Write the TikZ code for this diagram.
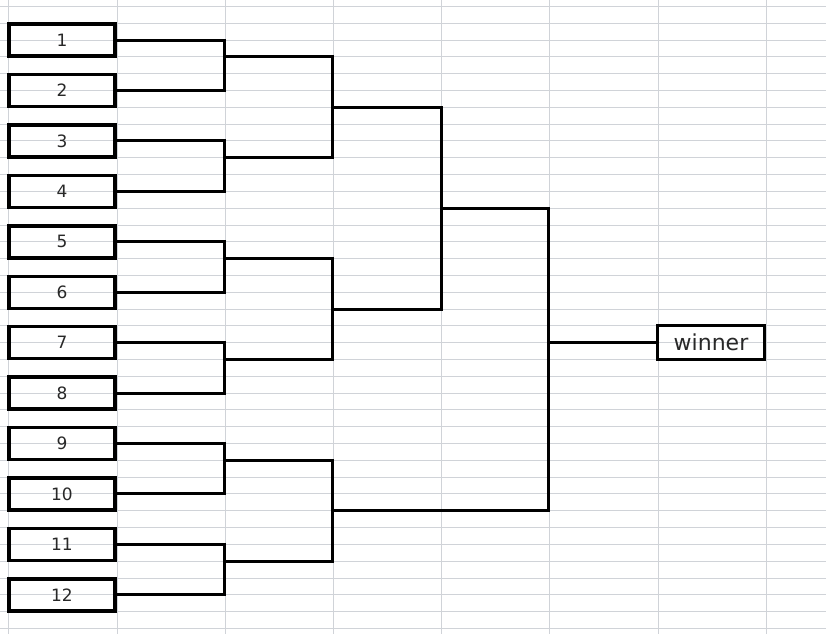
\documentclass[tikz,border=0pt]{standalone}
\usepackage{fontspec}
\setmainfont{DejaVu Sans}

\definecolor{gridline}{RGB}{208,211,216}
\definecolor{ink}{RGB}{40,40,40}

\tikzset{
  player/.style={draw, line width=3.5pt, minimum width=106pt, minimum height=32pt, inner sep=0pt, text=ink, font=\fontsize{17}{20}\selectfont},
  wire/.style={line width=3pt, line join=miter},
}

\begin{document}
\begin{tikzpicture}[x=1pt, y=-1pt]

\useasboundingbox (0,0) rectangle (826,634);
\fill[white] (0,0) rectangle (826,634);

% sheet grid
\foreach \k in {0,...,37} \draw[gridline, line width=1pt] (0, {6.5+16.81*\k}) -- (826, {6.5+16.81*\k});
\foreach \k in {0,...,7} \draw[gridline, line width=1pt] ({8.8+108.2*\k}, 0) -- ({8.8+108.2*\k}, 634);

% players
\node(p1) at (62, 40.12) [player] {1};
\node(p2) at (62, 90.55) [player] {2};
\node(p3) at (62, 140.98) [player] {3};
\node(p4) at (62, 191.41) [player] {4};
\node(p5) at (62, 241.84) [player] {5};
\node(p6) at (62, 292.27) [player] {6};
\node(p7) at (62, 342.70) [player] {7};
\node(p8) at (62, 393.13) [player] {8};
\node(p9) at (62, 443.56) [player] {9};
\node(p10) at (62, 493.99) [player] {10};
\node(p11) at (62, 544.42) [player] {11};
\node(p12) at (62, 594.85) [player] {12};

\node(w) at (711, 342.70) [player, line width=2.8pt, minimum width=107pt, minimum height=34pt, font=\fontsize{22}{26}\selectfont] {winner};

% bracket joints
\coordinate(a1) at (224, 56.93);
\coordinate(a2) at (224, 157.79);
\coordinate(a3) at (224, 258.65);
\coordinate(a4) at (224, 359.51);
\coordinate(a5) at (224, 460.37);
\coordinate(a6) at (224, 561.23);
\coordinate(b1) at (332.5, 107.36);
\coordinate(b2) at (332.5, 309.08);
\coordinate(b3) at (332.5, 510.80);
\coordinate(c1) at (441, 208.22);
\coordinate(d1) at (548.5, 342.70);

\draw[wire] (p1) -| (a1) |- (p2);
\draw[wire] (p3) -| (a2) |- (p4);
\draw[wire] (p5) -| (a3) |- (p6);
\draw[wire] (p7) -| (a4) |- (p8);
\draw[wire] (p9) -| (a5) |- (p10);
\draw[wire] (p11) -| (a6) |- (p12);

\draw[wire] (a1) -| (b1) |- (a2);
\draw[wire] (a3) -| (b2) |- (a4);
\draw[wire] (a5) -| (b3) |- (a6);

\draw[wire] (b1) -| (c1) |- (b2);
\draw[wire] (c1) -| (d1) |- (b3);

\draw[wire] (d1) to (w);

\end{tikzpicture}
\end{document}
